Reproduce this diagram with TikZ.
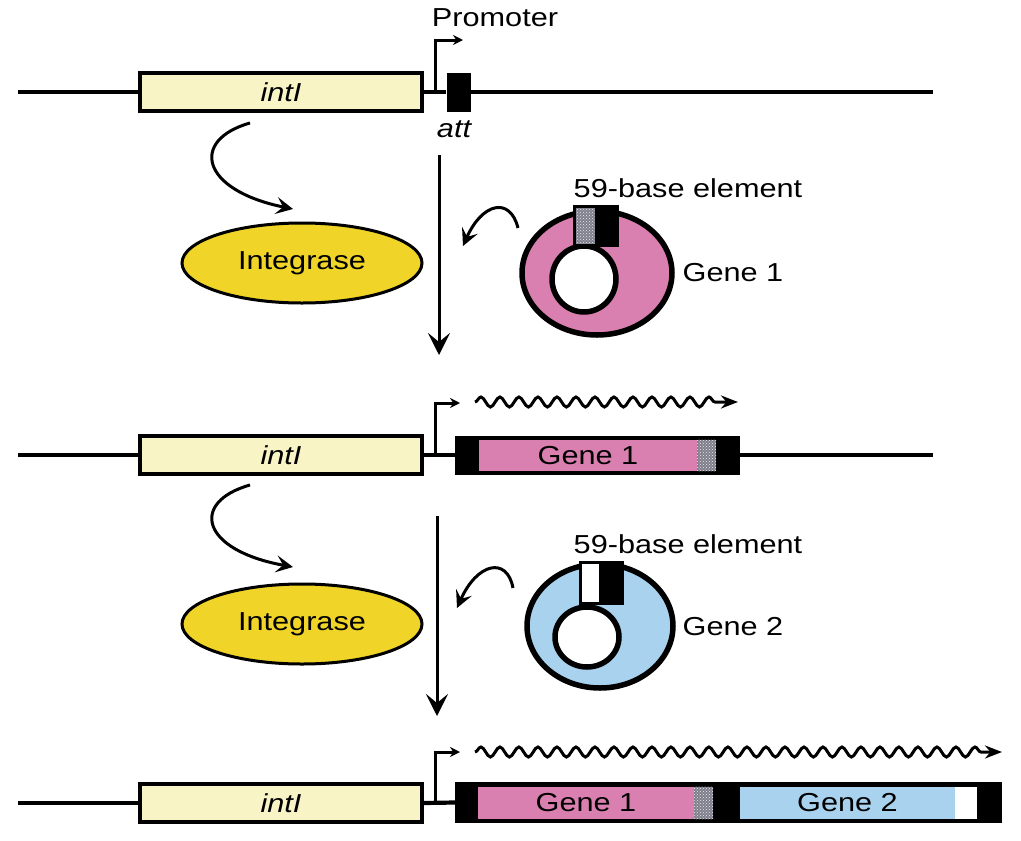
\documentclass[tikz,border=0pt]{standalone}
\usepackage{fontspec}
\setmainfont{Liberation Sans}[FakeStretch=1.18]
\usetikzlibrary{arrows.meta,decorations.pathmorphing,patterns,shapes.geometric}
\definecolor{intyel}{HTML}{F8F4C6}
\definecolor{integ}{HTML}{F0D428}
\definecolor{pinkg}{HTML}{DA80B0}
\definecolor{blueg}{HTML}{A8D2EE}
\definecolor{hatchg}{HTML}{7E7E8C}
\begin{document}
\begin{tikzpicture}[x=1pt,y=-1pt,
  font=\fontsize{26}{30}\selectfont,
  dna/.style={line width=4.2pt},
  box/.style={draw, line width=3.6pt, inner sep=0pt, fill=intyel},
  blk/.style={fill=black, inner sep=0pt, draw=none},
  seg/.style={inner sep=0pt, draw=none},
  prom/.style={line width=3pt, -{Stealth[length=10pt,width=10pt]}},
  bigarr/.style={line width=3pt, -{Stealth[length=22pt,width=22pt,inset=9pt]}},
  curv/.style={line width=3pt, -{Stealth[length=17pt,width=17pt,inset=7pt]}},
  wave/.style={line width=3pt, decorate, decoration={snake, amplitude=5pt, segment length=19pt, post length=14pt}, -{Stealth[length=17pt,width=13pt]}},
  ringline/.style={line width=5.5pt},
  enz/.style={draw, ellipse, fill=integ, line width=3pt, minimum width=240pt, minimum height=80pt, inner sep=0pt}
]
\useasboundingbox (0,0) rectangle (1021,841);
\fill[white] (0,0) rectangle (1021,841);

% ---------- Row 1 ----------
\coordinate (l1s) at (18,92);
\coordinate (l1e) at (933,92);
\node[box, minimum width=282pt, minimum height=38pt] (int1) at (281,92) {\itshape intI};
\node[blk, minimum width=24pt, minimum height=39pt] (att) at (458.5,92) {};
\draw[dna] (l1s) -- (int1.west);
\draw[dna] (int1.east) -- (att.west);
\draw[dna] (att.east) -- (l1e);
\coordinate (p1a) at (435,92);
\coordinate (p1b) at (463,40);
\draw[prom] (p1a) |- (p1b);
\node (promlab) at (495,18) {Promoter};
\node (attlab) at (454,129) {\itshape att};

% arrows row 1
\coordinate (v1s) at (439,155);
\coordinate (v1e) at (439,355);
\draw[bigarr] (v1s) -- (v1e);
\node[enz] (ig1) at (302,263) {Integrase};
\coordinate (c1s) at (250,123);
\coordinate (c1e) at (293,209);
\draw[curv] (c1s) .. controls (190,140) and (200,190) .. (c1e);

% ring 1
\fill[pinkg, even odd rule] (597,273) ellipse [x radius=75pt, y radius=62pt] (584,279) ellipse [x radius=32pt, y radius=33pt];
\draw[ringline] (597,273) ellipse [x radius=75pt, y radius=62pt];
\draw[ringline] (584,279) ellipse [x radius=32pt, y radius=33pt];
\fill[hatchg] (574,206) rectangle (595,245);
\fill[pattern=crosshatch dots, pattern color=white!85!gray] (574,206) rectangle (595,245);
\fill[black] (595,206) rectangle (617,245);
\draw[line width=3pt] (574,206) rectangle (617,245);
\node (el1) at (688,188) {59-base element};
\node (g1lab) at (733,273) {Gene 1};
\coordinate (s1s) at (518,228);
\coordinate (s1e) at (463,246);
\draw[curv] (s1s) .. controls (510,196) and (482,203) .. (s1e);

% ---------- Row 2 ----------
\coordinate (l2s) at (18,455);
\coordinate (l2e) at (933,455);
\node[box, minimum width=282pt, minimum height=38pt] (int2) at (281,455) {\itshape intI};
\node[blk, minimum width=285pt, minimum height=39pt] (cas2) at (597.5,455) {};
\node[seg, fill=pinkg, minimum width=218pt, minimum height=31pt] (g21) at (588,455.5) {Gene 1};
\node[seg, fill=hatchg, minimum width=19pt, minimum height=31pt] (h21) at (706.5,455.5) {};
\fill[pattern=crosshatch dots, pattern color=white!85!gray] (h21.south west) rectangle (h21.north east);
\draw[dna] (l2s) -- (int2.west);
\draw[dna] (int2.east) -- (cas2.west);
\draw[dna] (cas2.east) -- (l2e);
\coordinate (p2a) at (435,455);
\coordinate (p2b) at (460,403);
\draw[prom] (p2a) |- (p2b);
\coordinate (w2s) at (475,402);
\coordinate (w2e) at (738,402);
\draw[wave] (w2s) -- (w2e);

% arrows row 2
\coordinate (v2s) at (437,516);
\coordinate (v2e) at (437,716);
\draw[bigarr] (v2s) -- (v2e);
\node[enz] (ig2) at (302,624) {Integrase};
\coordinate (c2s) at (250,485);
\coordinate (c2e) at (293,567);
\draw[curv] (c2s) .. controls (190,502) and (200,550) .. (c2e);

% ring 2
\fill[blueg, even odd rule] (600,626) ellipse [x radius=73pt, y radius=62pt] (587,637) ellipse [x radius=32pt, y radius=30pt];
\draw[ringline] (600,626) ellipse [x radius=73pt, y radius=62pt];
\draw[ringline] (587,637) ellipse [x radius=32pt, y radius=30pt];
\fill[white] (580,562) rectangle (599,603);
\fill[black] (599,562) rectangle (622,603);
\draw[line width=3pt] (580,562) rectangle (622,603);
\node (el2) at (688,544) {59-base element};
\node (g2lab) at (733,627) {Gene 2};
\coordinate (s2s) at (513,588);
\coordinate (s2e) at (457,608);
\draw[curv] (s2s) .. controls (507,556) and (477,563) .. (s2e);

% ---------- Row 3 ----------
\coordinate (l3s) at (18,803);
\node[box, minimum width=282pt, minimum height=38pt] (int3) at (281,803) {\itshape intI};
\node[blk, minimum width=547pt, minimum height=41pt] (cas3) at (728.5,802.5) {};
\node[seg, fill=pinkg, minimum width=216pt, minimum height=32pt] (g31) at (586,803) {Gene 1};
\node[seg, fill=hatchg, minimum width=19pt, minimum height=32pt] (h31) at (703.5,803) {};
\fill[pattern=crosshatch dots, pattern color=white!85!gray] (h31.south west) rectangle (h31.north east);
\node[seg, fill=blueg, minimum width=215pt, minimum height=32pt] (g32) at (847.5,803) {Gene 2};
\node[seg, fill=white, minimum width=22pt, minimum height=32pt] (wt3) at (966,803) {};
\draw[dna] (l3s) -- (int3.west);
\draw[dna] (int3.east) -- (cas3.west);
\coordinate (p3a) at (435,803);
\coordinate (p3b) at (460,752);
\draw[prom] (p3a) |- (p3b);
\coordinate (w3s) at (475,752);
\coordinate (w3e) at (1002,752);
\draw[wave] (w3s) -- (w3e);
\end{tikzpicture}
\end{document}
